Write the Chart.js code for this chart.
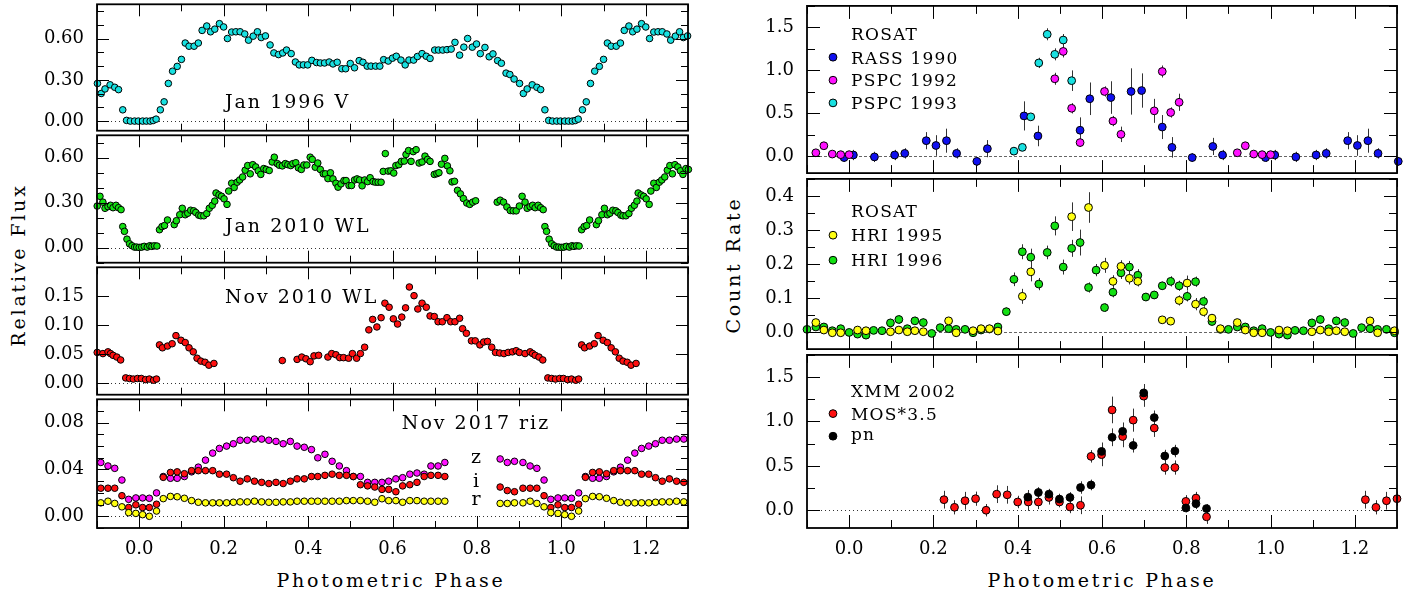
<!DOCTYPE html>
<html><head><meta charset="utf-8">
<script src="https://cdn.jsdelivr.net/npm/chart.js@4.4.1/dist/chart.umd.min.js"></script>
<style>
html,body{margin:0;padding:0;background:#fff;width:1420px;height:595px;overflow:hidden;}
body{position:relative;}
canvas{position:absolute;}
.t{position:absolute;font-family:'DejaVu Serif',serif;font-size:19px;letter-spacing:2.8px;color:#000;white-space:nowrap;transform:translate(-50%,-50%);}
.r{transform:translate(-50%,-50%) rotate(-90deg);}
</style></head><body>
<div class="t r" style="left:18px;top:265px;">Relative Flux</div>
<div class="t r" style="left:733px;top:265px;">Count Rate</div>
<div class="t" style="left:391px;top:580px;">Photometric Phase</div>
<div class="t" style="left:1102px;top:580px;">Photometric Phase</div>
<script>
// ---------- tick labels ----------
const xTickLabels = [0.0, 0.2, 0.4, 0.6, 0.8, 1.0, 1.2];
const p1YTicks = [0.00, 0.30, 0.60];
const p2YTicks = [0.00, 0.30, 0.60];
const p3YTicks = [0.00, 0.05, 0.10, 0.15];
const p4YTicks = [0.00, 0.04, 0.08];
const r1YTicks = [0.0, 0.5, 1.0, 1.5];
const r2YTicks = [0.0, 0.1, 0.2, 0.3, 0.4];
const r3YTicks = [0.0, 0.5, 1.0, 1.5];

// ---------- Jan 1996 V ----------
const v96Phase = [-0.099,-0.090,-0.081,-0.069,-0.058,-0.049,-0.039,-0.030,-0.021,-0.011,-0.002,0.008,0.017,0.026,0.033,0.040,0.050,0.059,0.069,0.079,0.090,0.100,0.109,0.118,0.130,0.140,0.149,0.160,0.169,0.179,0.190,0.200,0.209,0.219,0.229,0.239,0.250,0.259,0.270,0.280,0.289,0.299,0.310,0.319,0.330,0.340,0.349,0.360,0.370,0.379,0.389,0.399,0.409,0.420,0.429,0.439,0.450,0.459,0.469,0.480,0.489,0.500,0.510,0.521,0.530,0.540,0.549,0.560,0.570,0.579,0.590,0.600,0.609,0.620,0.630,0.639,0.650,0.659,0.670,0.680,0.689,0.700,0.709,0.719,0.729,0.739,0.748,0.759,0.769,0.778,0.789,0.799,0.808,0.819,0.829,0.838,0.849,0.858,0.869,0.878,0.888];
const v96Flux = [0.274,0.201,0.234,0.264,0.246,0.229,0.082,0.005,0.000,0.000,0.000,0.000,0.000,0.000,0.004,0.014,0.082,0.140,0.274,0.363,0.398,0.449,0.568,0.545,0.545,0.568,0.660,0.692,0.650,0.669,0.709,0.685,0.601,0.648,0.650,0.650,0.634,0.589,0.618,0.650,0.608,0.620,0.554,0.496,0.484,0.496,0.517,0.491,0.430,0.409,0.409,0.409,0.442,0.426,0.423,0.423,0.430,0.416,0.428,0.381,0.381,0.419,0.388,0.440,0.428,0.400,0.400,0.400,0.400,0.447,0.437,0.458,0.472,0.444,0.409,0.444,0.444,0.470,0.491,0.472,0.456,0.517,0.517,0.517,0.520,0.524,0.573,0.480,0.538,0.601,0.538,0.561,0.491,0.536,0.468,0.489,0.440,0.421,0.349,0.339,0.306];

// ---------- Jan 2010 WL ----------
const wl10aPhase = [-0.0995,-0.093,-0.086,-0.081,-0.074,-0.068,-0.062,-0.055,-0.049,-0.043,-0.039,-0.035,-0.029,-0.023,-0.017,-0.011,-0.006,0.000,0.006,0.012,0.019,0.025,0.030,0.036,0.042,0.048,0.054,0.060,0.067,0.083,0.088,0.096,0.102,0.109,0.115,0.122,0.129,0.134,0.141,0.146,0.153,0.160,0.166,0.173,0.179,0.182,0.189,0.195,0.201,0.208,0.212,0.219,0.225,0.232,0.238,0.245,0.251,0.257,0.263,0.269,0.276,0.282,0.288,0.295,0.301,0.308,0.315,0.320,0.327,0.332,0.339,0.346,0.352,0.359,0.364,0.371,0.377,0.384,0.390,0.397,0.405,0.410,0.417,0.423,0.429,0.436,0.441,0.447,0.453,0.459,0.466,0.471,0.478,0.485,0.490,0.497,0.503,0.510,0.516,0.522,0.528,0.534,0.541,0.547,0.554,0.560,0.566,0.573,0.578,0.583,0.590,0.596,0.603,0.608,0.615,0.621,0.628,0.632,0.638,0.644,0.649,0.656,0.663,0.670,0.677,0.683,0.689,0.699,0.705,0.710,0.716,0.724,0.730,0.736,0.741,0.747,0.754,0.761,0.768,0.776,0.783,0.790,0.797,0.848,0.855,0.863,0.871,0.879,0.886,0.893];
const wl10aFlux = [0.278,0.343,0.304,0.263,0.274,0.283,0.267,0.283,0.267,0.254,0.141,0.109,0.057,0.026,0.013,0.004,0.004,0.002,0.004,0.009,0.004,0.013,0.009,0.013,0.011,0.120,0.141,0.148,0.185,0.154,0.180,0.220,0.263,0.220,0.230,0.250,0.246,0.235,0.217,0.213,0.213,0.228,0.263,0.283,0.311,0.365,0.352,0.343,0.326,0.289,0.378,0.430,0.402,0.437,0.452,0.472,0.517,0.548,0.493,0.554,0.539,0.513,0.489,0.528,0.522,0.515,0.572,0.604,0.561,0.550,0.546,0.561,0.554,0.548,0.561,0.567,0.533,0.522,0.552,0.552,0.604,0.589,0.537,0.565,0.522,0.493,0.493,0.461,0.500,0.459,0.430,0.404,0.426,0.448,0.448,0.415,0.415,0.452,0.459,0.452,0.413,0.452,0.441,0.467,0.441,0.437,0.437,0.437,0.509,0.628,0.511,0.513,0.498,0.548,0.554,0.576,0.578,0.622,0.648,0.576,0.641,0.654,0.565,0.572,0.611,0.589,0.576,0.489,0.494,0.500,0.557,0.596,0.546,0.513,0.439,0.443,0.383,0.359,0.328,0.298,0.289,0.304,0.313,0.304,0.317,0.304,0.272,0.248,0.246,0.246];

// ---------- Nov 2010 WL ----------
const wl10bPhase = [-0.0995,-0.086,-0.074,-0.068,-0.062,-0.053,-0.044,-0.032,-0.023,-0.014,-0.004,0.005,0.015,0.024,0.034,0.041,0.048,0.055,0.067,0.078,0.087,0.099,0.109,0.118,0.128,0.137,0.146,0.156,0.165,0.177,0.339,0.374,0.385,0.395,0.405,0.414,0.425,0.447,0.456,0.466,0.475,0.484,0.496,0.505,0.515,0.524,0.534,0.544,0.553,0.563,0.573,0.582,0.592,0.602,0.612,0.622,0.631,0.640,0.651,0.660,0.670,0.680,0.689,0.699,0.708,0.718,0.729,0.738,0.748,0.759,0.766,0.775,0.787,0.796,0.807,0.816,0.825,0.835,0.844,0.854,0.864,0.874,0.884,0.893];
const wl10bFlux = [0.053,0.051,0.054,0.051,0.048,0.045,0.040,0.009,0.008,0.007,0.008,0.008,0.006,0.007,0.005,0.007,0.066,0.061,0.064,0.068,0.082,0.074,0.070,0.061,0.054,0.043,0.038,0.036,0.031,0.034,0.039,0.041,0.045,0.042,0.037,0.047,0.048,0.045,0.051,0.049,0.044,0.044,0.043,0.051,0.043,0.051,0.062,0.092,0.110,0.097,0.113,0.138,0.131,0.111,0.102,0.114,0.130,0.166,0.151,0.128,0.138,0.131,0.116,0.115,0.106,0.106,0.113,0.106,0.106,0.112,0.094,0.086,0.073,0.073,0.066,0.071,0.072,0.062,0.053,0.052,0.051,0.053,0.054,0.056];

// ---------- Nov 2017 riz ----------
const riz17Phase = [-0.091,-0.074,-0.058,-0.041,-0.025,-0.008,0.008,0.024,0.041,0.057,0.074,0.090,0.107,0.124,0.140,0.157,0.174,0.190,0.207,0.223,0.239,0.256,0.273,0.290,0.307,0.324,0.341,0.358,0.374,0.391,0.408,0.423,0.440,0.457,0.474,0.491,0.507,0.524,0.541,0.558,0.575,0.591,0.608,0.624,0.641,0.658,0.675,0.691,0.708,0.724,0.855,0.872,0.889];
const zFlux = [0.046,0.043,0.041,0.031,0.0145,0.0157,0.0157,0.0154,0.020,0.034,0.0325,0.0325,0.034,0.038,0.042,0.048,0.054,0.058,0.060,0.062,0.065,0.065,0.066,0.066,0.065,0.064,0.062,0.064,0.060,0.059,0.057,0.050,0.053,0.047,0.043,0.039,0.034,0.034,0.029,0.029,0.029,0.030,0.032,0.033,0.036,0.037,0.036,0.043,0.043,0.046,0.049,0.046,0.047];
const iFlux = [0.024,0.024,0.024,0.0176,0.0075,0.0098,0.0075,0.0075,0.0103,0.0333,0.0375,0.038,0.0364,0.039,0.039,0.039,0.039,0.036,0.036,0.033,0.030,0.032,0.030,0.029,0.028,0.029,0.028,0.030,0.032,0.032,0.034,0.034,0.035,0.036,0.035,0.035,0.034,0.027,0.026,0.025,0.023,0.023,0.021,0.026,0.027,0.029,0.034,0.035,0.035,0.034,0.025,0.022,0.021];
const rFlux = [0.0115,0.0129,0.011,0.0081,0.0031,0.0025,0.0014,0.0000,0.0045,0.0151,0.017,0.0167,0.0154,0.0134,0.012,0.0115,0.0115,0.0115,0.0115,0.012,0.0123,0.0123,0.0129,0.0123,0.012,0.012,0.0123,0.0123,0.0129,0.0129,0.0129,0.0129,0.0129,0.0129,0.0129,0.0134,0.0134,0.0134,0.0129,0.012,0.015,0.0134,0.0134,0.012,0.0134,0.0134,0.0129,0.0129,0.0129,0.0129,0.011,0.011,0.0115];

// ---------- ROSAT RASS 1990 / PSPC 1992 / PSPC 1993 ----------
const rassPhase = [-0.012,0.010,0.060,0.108,0.132,0.183,0.206,0.231,0.255,0.303,0.328,0.415,0.448,0.548,0.571,0.621,0.669,0.694,0.743,0.766,0.814,0.863,0.886];
const rassRate = [-0.019,0.011,-0.011,0.011,0.030,0.178,0.122,0.178,0.030,-0.063,0.085,0.467,0.233,0.300,0.667,0.681,0.752,0.763,0.337,0.100,-0.019,0.111,0.011];
const rassErr = [0.05,0.06,0.06,0.06,0.06,0.10,0.12,0.14,0.06,0.05,0.10,0.17,0.12,0.15,0.19,0.19,0.27,0.20,0.14,0.12,0.05,0.10,0.06];
const pspc92Phase = [-0.079,-0.060,-0.040,-0.020,0.000,0.488,0.508,0.528,0.548,0.606,0.626,0.645,0.724,0.743,0.763,0.783];
const pspc92Rate = [0.037,0.119,0.022,0.015,0.015,0.900,1.219,0.556,0.156,0.752,0.407,0.252,0.526,0.985,0.507,0.626];
const pspc92Err = [0.03,0.03,0.03,0.03,0.03,0.07,0.07,0.06,0.05,0.06,0.06,0.09,0.14,0.07,0.06,0.10];
const pspc93Phase = [0.391,0.411,0.431,0.450,0.470,0.488,0.508,0.528];
const pspc93Rate = [0.056,0.100,0.456,1.085,1.419,1.185,1.352,0.878];
const pspc93Err = [0.03,0.03,0.03,0.06,0.07,0.07,0.07,0.12];

// ---------- ROSAT HRI 1995 / 1996 ----------
const hri96Phase = [-0.100,-0.079,-0.060,-0.040,-0.020,0.000,0.020,0.040,0.058,0.078,0.098,0.118,0.138,0.156,0.176,0.196,0.216,0.236,0.254,0.275,0.294,0.313,0.333,0.353,0.373,0.391,0.411,0.431,0.450,0.470,0.488,0.508,0.528,0.548,0.568,0.586,0.606,0.626,0.645,0.665,0.685,0.704,0.724,0.743,0.763,0.783,0.802,0.822,0.841,0.861,0.881];
const hri96Rate = [0.008,0.015,0.015,0.004,0.010,-0.001,-0.006,-0.009,0.005,0.004,0.027,0.037,0.010,0.033,0.028,-0.004,0.013,0.010,0.008,0.008,-0.002,0.006,0.009,0.015,0.060,0.155,0.236,0.220,0.141,0.234,0.312,0.191,0.246,0.263,0.131,0.182,0.072,0.117,0.174,0.191,0.167,0.103,0.109,0.136,0.149,0.136,0.105,0.148,0.090,0.031,0.008];
const hri96Err = [0.008,0.008,0.008,0.008,0.008,0.006,0.008,0.008,0.008,0.008,0.012,0.012,0.008,0.012,0.012,0.006,0.008,0.008,0.008,0.008,0.006,0.008,0.008,0.008,0.012,0.020,0.022,0.025,0.018,0.020,0.028,0.022,0.025,0.038,0.015,0.018,0.012,0.015,0.018,0.018,0.018,0.012,0.012,0.012,0.015,0.015,0.015,0.015,0.015,0.010,0.008];
const hri95Phase = [-0.079,-0.060,-0.040,-0.020,0.020,0.040,0.098,0.118,0.138,0.156,0.176,0.236,0.254,0.294,0.313,0.333,0.353,0.411,0.431,0.528,0.568,0.606,0.626,0.645,0.665,0.685,0.743,0.763,0.783,0.802,0.822,0.841,0.861,0.881];
const hri95Rate = [0.028,0.006,-0.002,-0.002,0.006,0.004,0.001,0.006,0.001,0.004,0.001,0.033,-0.002,0.004,0.010,0.010,0.003,0.105,0.177,0.339,0.366,0.196,0.149,0.193,0.158,0.149,0.036,0.032,0.093,0.144,0.082,0.060,0.041,0.010];
const hri95Err = [0.010,0.008,0.008,0.008,0.008,0.008,0.008,0.008,0.008,0.008,0.008,0.010,0.008,0.008,0.008,0.008,0.008,0.022,0.028,0.042,0.045,0.022,0.018,0.018,0.018,0.015,0.010,0.010,0.015,0.022,0.018,0.015,0.010,0.008];

// ---------- XMM 2002 ----------
const mosPhase = [0.225,0.250,0.275,0.300,0.325,0.350,0.375,0.400,0.425,0.449,0.474,0.499,0.524,0.549,0.574,0.599,0.624,0.649,0.674,0.699,0.724,0.749,0.773,0.799,0.823,0.848];
const mosRate = [0.119,0.033,0.107,0.130,0.000,0.181,0.174,0.093,0.093,0.093,0.144,0.093,0.037,0.056,0.607,0.626,1.130,0.830,1.015,1.285,0.926,0.481,0.481,0.100,0.137,-0.074];
const mosErr = [0.10,0.08,0.10,0.08,0.07,0.10,0.10,0.07,0.10,0.08,0.08,0.06,0.07,0.10,0.07,0.13,0.15,0.12,0.13,0.12,0.10,0.08,0.08,0.07,0.07,0.08];
const pnPhase = [0.424,0.449,0.474,0.499,0.524,0.549,0.574,0.599,0.624,0.649,0.674,0.699,0.724,0.749,0.773,0.799,0.823,0.848];
const pnRate = [0.148,0.200,0.181,0.126,0.144,0.256,0.285,0.663,0.822,0.889,0.730,1.322,1.044,0.611,0.667,0.026,0.074,0.019];
const pnErr = [0.08,0.06,0.06,0.06,0.06,0.07,0.06,0.10,0.10,0.10,0.08,0.10,0.08,0.07,0.07,0.05,0.06,0.05];

// ---------- helpers ----------
// phase-folded data are shown over two cycles (phase and phase+1)
function fold(ph, val, err) {
  const out = [];
  [0, 1].forEach(c => ph.forEach((p, i) => {
    const x = p + c;
    if (x >= -0.102 && x <= 1.305) out.push({x: x, y: val[i], e: err ? err[i] : 0});
  }));
  return out;
}
function ds(data, color, r, order) {
  return {data: data, backgroundColor: color, borderColor: '#000', borderWidth: 1,
    pointRadius: r, pointHoverRadius: r, clip: false, order: order, showLine: false};
}
const FONT = "'DejaVu Serif', serif";

function steps(min, max, step) {
  const out = [];
  if (!step) return out;
  for (let k = Math.ceil(min / step - 1e-6); k <= Math.floor(max / step + 1e-6); k++) out.push(k * step);
  return out;
}
function noPad(s) { s.paddingTop = 0; s.paddingBottom = 0; s.paddingLeft = 0; s.paddingRight = 0; }

const framePlugin = {
  id: 'frame',
  beforeDatasetsDraw(chart, args, o) {
    const ctx = chart.ctx, a = chart.chartArea, x = chart.scales.x, y = chart.scales.y;
    if (o.zero) {
      const yy = Math.round(y.getPixelForValue(0)) + 0.5;
      ctx.save();
      ctx.strokeStyle = o.zero.color; ctx.lineWidth = 1; ctx.setLineDash(o.zero.dash);
      ctx.beginPath(); ctx.moveTo(a.left + 2, yy); ctx.lineTo(x.getPixelForValue(o.zero.end), yy); ctx.stroke();
      ctx.restore();
    }
    ctx.save(); ctx.strokeStyle = '#333'; ctx.lineWidth = 1;
    chart.data.datasets.forEach(d => d.data.forEach(pt => {
      if (!pt.e) return;
      const px = Math.round(x.getPixelForValue(pt.x)) + 0.5;
      ctx.beginPath(); ctx.moveTo(px, y.getPixelForValue(pt.y - pt.e)); ctx.lineTo(px, y.getPixelForValue(pt.y + pt.e)); ctx.stroke();
    }));
    ctx.restore();
  },
  afterDatasetsDraw(chart, args, o) {
    const ctx = chart.ctx, a = chart.chartArea, x = chart.scales.x, y = chart.scales.y;
    ctx.save();
    ctx.strokeStyle = '#000'; ctx.lineWidth = 1;
    const M = o.major || 12, m = o.minor || 7;
    const xMaj = steps(x.min, x.max, o.xMajor), xMin = steps(x.min, x.max, o.xMinor);
    const yMaj = steps(y.min, y.max, o.yMajor), yMin = steps(y.min, y.max, o.yMinor);
    ctx.beginPath();
    xMin.forEach(v => { const px = Math.round(x.getPixelForValue(v)) + 0.5; const L = xMaj.some(w => Math.abs(w - v) < 1e-6) ? M : m;
      ctx.moveTo(px, a.top); ctx.lineTo(px, a.top + L); ctx.moveTo(px, a.bottom); ctx.lineTo(px, a.bottom - L); });
    const ys = yMin.length ? yMin : yMaj;
    ys.forEach(v => { const py = Math.round(y.getPixelForValue(v)) + 0.5; const L = yMaj.some(w => Math.abs(w - v) < 1e-6) ? M : m;
      ctx.moveTo(a.left, py); ctx.lineTo(a.left + L, py); ctx.moveTo(a.right, py); ctx.lineTo(a.right - L, py); });
    ctx.stroke();
    ctx.lineWidth = 1.8;
    ctx.strokeRect(a.left, a.top, a.right - a.left, a.bottom - a.top);
    ctx.fillStyle = '#000';
    (o.texts || []).forEach(t => {
      ctx.font = (t.size || 19) + 'px ' + FONT;
      ctx.letterSpacing = (t.ls !== undefined ? t.ls : 2) + 'px';
      ctx.textAlign = t.align || 'left'; ctx.textBaseline = 'alphabetic';
      ctx.fillText(t.t, x.getPixelForValue(t.x), y.getPixelForValue(t.y));
    });
    if (o.legend) {
      const L = o.legend;
      ctx.font = '17px ' + FONT; ctx.letterSpacing = '1.2px'; ctx.textAlign = 'left'; ctx.textBaseline = 'alphabetic';
      ctx.fillText(L.title, a.left + L.dx, a.top + L.titleY);
      L.rows.forEach(r => {
        ctx.fillText(r.t, a.left + L.dx, a.top + r.ty);
        ctx.beginPath(); ctx.arc(a.left + L.mx, a.top + r.my, 3.9, 0, Math.PI * 2);
        ctx.fillStyle = r.color; ctx.fill(); ctx.lineWidth = 1; ctx.strokeStyle = '#000'; ctx.stroke();
        ctx.fillStyle = '#000';
      });
    }
    ctx.restore();
  }
};

function panel(o) {
  const cv = document.createElement('canvas');
  cv.width = o.w; cv.height = o.h;
  cv.style.left = o.left + 'px'; cv.style.top = o.top + 'px';
  cv.style.width = o.w + 'px'; cv.style.height = o.h + 'px';
  document.body.appendChild(cv);
  return new Chart(cv, {
    type: 'scatter',
    data: {datasets: o.datasets},
    options: {
      responsive: false, animation: false, devicePixelRatio: 1,
      layout: {padding: {top: o.padTop, right: o.padRight, bottom: o.padBottom, left: 0}},
      plugins: {legend: {display: false}, tooltip: {enabled: false}, frame: o.frame},
      scales: {
        x: {
          type: 'linear', min: -0.1, max: 1.3, display: !!o.showX,
          grid: {display: false, drawTicks: false}, border: {display: false},
          afterBuildTicks: s => { s.ticks = xTickLabels.map(v => ({value: v})); },
          afterFit: s => { noPad(s); if (o.showX) s.height = o.xHeight; },
          ticks: {autoSkip: false, maxRotation: 0, padding: 11, color: '#000',
            font: {family: FONT, size: 18}, callback: v => Number(v).toFixed(1)}
        },
        y: {
          type: 'linear', min: o.yMin, max: o.yMax,
          grid: {display: false, drawTicks: false}, border: {display: false},
          afterBuildTicks: s => { s.ticks = o.yTicks.map(v => ({value: v})); },
          afterFit: s => { noPad(s); s.width = o.yWidth; },
          ticks: {autoSkip: false, padding: o.yPad, color: '#000',
            font: {family: FONT, size: 18}, callback: v => Number(v).toFixed(o.yDec)}
        }
      }
    },
    plugins: [framePlugin]
  });
}

const CYAN = '#18e0e0', GREEN = '#12e012', RED = '#ff1010', MAG = '#ff10ff', YEL = '#ffff10', BLUE = '#1010f0', BLK = '#000000';
const leftBase = {left: 0, w: 700, yWidth: 97, padRight: 12, yPad: 13, yDec: 2};
const dotZero = {color: '#333', dash: [1, 3], end: 1.265};
const RL = 3.3, RR = 3.9;

panel(Object.assign({}, leftBase, {top: 0, h: 135, padTop: 2, padBottom: 2, yMin: -0.07, yMax: 0.85, yTicks: p1YTicks,
  datasets: [ds(fold(v96Phase, v96Flux), CYAN, RL, 1)],
  frame: {xMajor: 0.2, xMinor: 0.1, yMajor: 0.3, yMinor: 0.1, zero: dotZero,
    texts: [{t: 'Jan 1996 V', x: 0.203, y: 0.098}]}}));

panel(Object.assign({}, leftBase, {top: 131, h: 136, padTop: 2, padBottom: 2, yMin: -0.10, yMax: 0.75, yTicks: p2YTicks,
  datasets: [ds(fold(wl10aPhase, wl10aFlux), GREEN, RL, 1)],
  frame: {xMajor: 0.2, xMinor: 0.1, yMajor: 0.3, yMinor: 0.1, zero: dotZero,
    texts: [{t: 'Jan 2010 WL', x: 0.203, y: 0.104}]}}));

panel(Object.assign({}, leftBase, {top: 263, h: 136, padTop: 2, padBottom: 2, yMin: -0.02, yMax: 0.20, yTicks: p3YTicks,
  datasets: [ds(fold(wl10bPhase, wl10bFlux), RED, RL, 1)],
  frame: {xMajor: 0.2, xMinor: 0.1, yMajor: 0.05, yMinor: 0, zero: dotZero,
    texts: [{t: 'Nov 2010 WL', x: 0.203, y: 0.139}]}}));

panel(Object.assign({}, leftBase, {top: 395, h: 200, padTop: 2, padBottom: 0, showX: true, xHeight: 67, yMin: -0.01, yMax: 0.10, yTicks: p4YTicks,
  datasets: [ds(fold(riz17Phase, zFlux), MAG, RL, 3), ds(fold(riz17Phase, iFlux), RED, RL, 2), ds(fold(riz17Phase, rFlux), YEL, RL, 1)],
  frame: {xMajor: 0.2, xMinor: 0.1, yMajor: 0.04, yMinor: 0.01, zero: dotZero,
    texts: [{t: 'Nov 2017 riz', x: 0.622, y: 0.075}, {t: 'z', x: 0.80, y: 0.0455, align: 'center'},
            {t: 'i', x: 0.80, y: 0.0248, align: 'center'}, {t: 'r', x: 0.80, y: 0.0095, align: 'center'}]}}));

const rightBase = {left: 720, w: 700, yWidth: 87, padRight: 23, yPad: 13, yDec: 1};
const dashZero = {color: '#666', dash: [3, 2], end: 1.3};

panel(Object.assign({}, rightBase, {top: 1, h: 177, padTop: 2, padBottom: 2, yMin: -0.2, yMax: 1.75, yTicks: r1YTicks,
  datasets: [ds(fold(rassPhase, rassRate, rassErr), BLUE, RR, 3), ds(fold(pspc92Phase, pspc92Rate, pspc92Err), MAG, RR, 2),
             ds(fold(pspc93Phase, pspc93Rate, pspc93Err), CYAN, RR, 1)],
  frame: {xMajor: 0.2, xMinor: 0.1, yMajor: 0.5, yMinor: 0.25, major: 13, minor: 8, zero: dashZero,
    legend: {dx: 44, mx: 26, title: 'ROSAT', titleY: 34,
      rows: [{t: 'RASS 1990', color: BLUE, ty: 57.7, my: 51.3}, {t: 'PSPC 1992', color: MAG, ty: 80.3, my: 74.3}, {t: 'PSPC 1993', color: CYAN, ty: 103, my: 97}]}}}));

panel(Object.assign({}, rightBase, {top: 174, h: 180, padTop: 2, padBottom: 2, yMin: -0.05, yMax: 0.45, yTicks: r2YTicks,
  datasets: [ds(fold(hri96Phase, hri96Rate, hri96Err), GREEN, RR, 2), ds(fold(hri95Phase, hri95Rate, hri95Err), YEL, RR, 1)],
  frame: {xMajor: 0.2, xMinor: 0.1, yMajor: 0.1, yMinor: 0.05, major: 13, minor: 8, zero: dashZero,
    legend: {dx: 44, mx: 26, title: 'ROSAT', titleY: 38.3,
      rows: [{t: 'HRI 1995', color: YEL, ty: 62.3, my: 56.3}, {t: 'HRI 1996', color: GREEN, ty: 87.3, my: 81.3}]}}}));

panel(Object.assign({}, rightBase, {top: 350, h: 245, padTop: 2, padBottom: 0, showX: true, xHeight: 67, yMin: -0.2, yMax: 1.75, yTicks: r3YTicks,
  datasets: [ds(fold(mosPhase, mosRate, mosErr), RED, RR, 2), ds(fold(pnPhase, pnRate, pnErr), BLK, RR, 1)],
  frame: {xMajor: 0.2, xMinor: 0.1, yMajor: 0.5, yMinor: 0.25, major: 13, minor: 8, zero: {color: '#333', dash: [1, 3], end: 1.3},
    legend: {dx: 44, mx: 26, title: 'XMM 2002', titleY: 41.7,
      rows: [{t: 'MOS*3.5', color: RED, ty: 64.7, my: 58.7}, {t: 'pn', color: BLK, ty: 84.7, my: 81.3}]}}}));
</script>
</body></html>
